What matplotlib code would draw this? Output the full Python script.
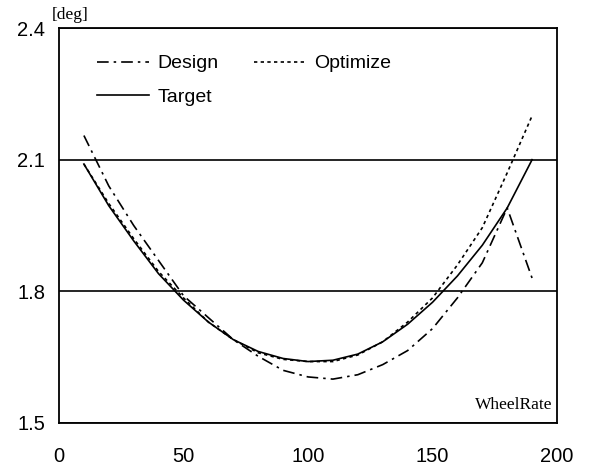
import matplotlib
matplotlib.use("Agg")
import matplotlib.pyplot as plt

wheel_rate = [10, 20, 30, 40, 50, 60, 70, 80, 90, 100, 110, 120, 130, 140, 150, 160, 170, 180, 190]
design = [2.155, 2.04, 1.95, 1.87, 1.79, 1.74, 1.69, 1.652, 1.62, 1.605, 1.60, 1.61, 1.633, 1.665, 1.715, 1.785, 1.865, 1.99, 1.83]
optimize = [2.09, 2.0, 1.92, 1.845, 1.785, 1.73, 1.69, 1.66, 1.645, 1.64, 1.64, 1.655, 1.685, 1.73, 1.785, 1.86, 1.945, 2.07, 2.2]
target = [2.09, 1.995, 1.915, 1.84, 1.78, 1.73, 1.69, 1.663, 1.647, 1.64, 1.643, 1.657, 1.685, 1.725, 1.775, 1.835, 1.905, 1.99, 2.1]

x_ticks = [0, 50, 100, 150, 200]
y_ticks = [1.5, 1.8, 2.1, 2.4]
y_tick_labels = ["1.5", "1.8", "2.1", "2.4"]

fig = plt.figure(figsize=(5.91, 4.70), dpi=100)
ax = fig.add_axes([59/591, 1-423/470, 498/591, 395/470])

lw = 1.2
ax.plot(wheel_rate, design, color="black", lw=lw, dashes=(7, 3, 1.5, 3), label="Design")
ax.plot(wheel_rate, target, color="black", lw=lw, label="Target")
ax.plot(wheel_rate, optimize, color="black", lw=lw, dashes=(2, 2), label="Optimize")

ax.set_xlim(0, 200)
ax.set_ylim(1.5, 2.4)
ax.set_xticks(x_ticks)
ax.set_yticks(y_ticks)
ax.set_yticklabels(y_tick_labels)
ax.tick_params(length=0, labelsize=14.5, pad=10)
for lab in ax.get_xticklabels() + ax.get_yticklabels():
    lab.set_fontfamily("Liberation Sans")
ax.tick_params(axis="x", pad=17)

ax.grid(axis="y", color="black", lw=1.2)
ax.set_axisbelow(True)
for s in ax.spines.values():
    s.set_linewidth(1.3)
    s.set_color("black")

leg = ax.legend(ncol=2, loc="upper left", bbox_to_anchor=(0.076, 0.932), frameon=False,
                prop={"family": "Liberation Sans", "size": 14},
                handlelength=2.7, handletextpad=0.4, columnspacing=1.85,
                labelspacing=0.8, borderpad=0, borderaxespad=0)

fig.text(552/591, 1-405/470, "WheelRate", ha="right", va="center",
         family="Liberation Serif", fontsize=12.5)
fig.text(52/591, 1-15/470, "[deg]", ha="left", va="center",
         family="Liberation Serif", fontsize=12.5)

fig.savefig("out.png", dpi=100)
